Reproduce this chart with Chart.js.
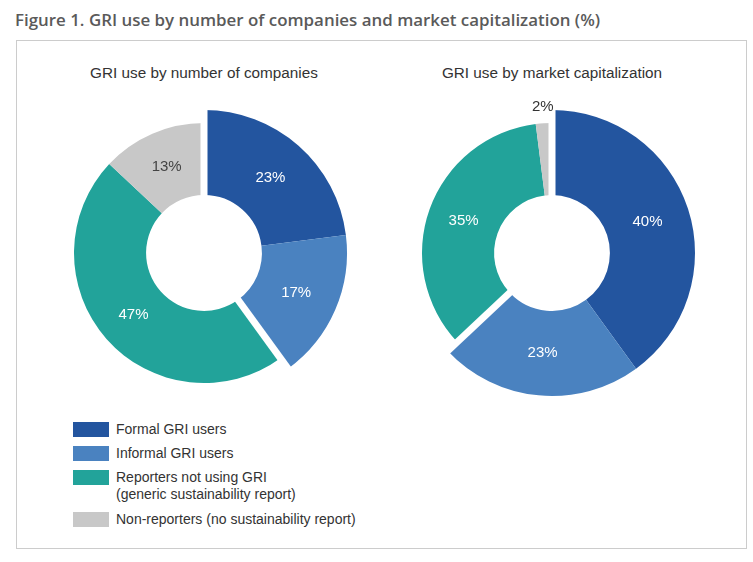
<!DOCTYPE html>
<html>
<head>
<meta charset="utf-8">
<script src="https://cdn.jsdelivr.net/npm/chart.js@4/dist/chart.umd.min.js"></script>
<style>
  html, body { margin: 0; padding: 0; background: #fff; }
  body { width: 753px; height: 562px; position: relative; overflow: hidden; font-family: "Liberation Sans", Arial, sans-serif; }
  #title { position: absolute; left: 15px; top: 8px; font-family: "Open Sans", sans-serif; font-weight: 600; font-size: 16.9px; color: #5a5a5a; white-space: nowrap; }
  #frame { position: absolute; left: 16px; top: 40px; width: 729px; height: 507px; border: 1px solid #cccccc; }
  .sub { position: absolute; top: 64px; width: 300px; text-align: center; font-size: 15.3px; color: #333; white-space: nowrap; }
  .cv { position: absolute; width: 320px; height: 320px; top: 93px; }
  #legend { position: absolute; left: 73px; top: 422px; font-size: 14px; color: #333; }
  .li { position: relative; height: 24px; }
  .li.two { height: 42px; }
  .sw { position: absolute; left: 0; top: 0; width: 36px; height: 15px; }
  .lt { position: absolute; left: 43px; top: -1px; line-height: 17px; white-space: nowrap; }
</style>
</head>
<body>
<div id="title"></div>
<div id="frame"></div>
<div class="sub" id="sub0" style="left:54px"></div>
<div class="sub" id="sub1" style="left:402px"></div>
<div class="cv" style="left:44px"><canvas id="c0" width="320" height="320"></canvas></div>
<div class="cv" style="left:392px"><canvas id="c1" width="320" height="320"></canvas></div>
<div id="legend"></div>
<script>
// ---- data ----
const figureTitle = 'Figure 1. GRI use by number of companies and market capitalization (%)';
const chartTitles = ['GRI use by number of companies', 'GRI use by market capitalization'];
const categories = ['Formal GRI users', 'Informal GRI users', 'Reporters not using GRI', 'Non-reporters (no sustainability report)'];
const categoryNotes = ['', '', '(generic sustainability report)', ''];
const companiesShare = [23, 17, 47, 13];
const marketCapShare = [40, 23, 35, 2];
const categoryGroup = [0, 0, 1, 1]; // GRI users vs others
// ---- styles ----
const sliceColors = ['#23559f', '#4a82c0', '#22a39a', '#c8c8c8'];
const labelColors = ['#ffffff', '#ffffff', '#ffffff', '#444444'];

document.getElementById('title').textContent = figureTitle;
document.getElementById('sub0').textContent = chartTitles[0];
document.getElementById('sub1').textContent = chartTitles[1];

const legend = document.getElementById('legend');
categories.forEach((c, i) => {
  const row = document.createElement('div');
  row.className = 'li' + (categoryNotes[i] ? ' two' : '');
  const sw = document.createElement('div');
  sw.className = 'sw'; sw.style.background = sliceColors[i];
  const t = document.createElement('div');
  t.className = 'lt';
  t.textContent = c;
  if (categoryNotes[i]) { t.appendChild(document.createElement('br')); t.appendChild(document.createTextNode(categoryNotes[i])); }
  row.appendChild(sw); row.appendChild(t);
  legend.appendChild(row);
});

const groupPlugin = {
  id: 'groupRing',
  beforeDatasetsDraw(chart) {
    const meta = chart.getDatasetMeta(0);
    const ctrl = meta.controller;
    const ratio = chart.options.plugins.groupRing.ratio;
    meta.data.forEach((arc, i) => {
      arc.outerRadius = categoryGroup[i] === 0 ? ctrl.outerRadius : ctrl.outerRadius * ratio;
    });
  },
  afterDatasetsDraw(chart) {
    const meta = chart.getDatasetMeta(0);
    const ctx = chart.ctx;
    const n = meta.data.length;
    const vals = chart.data.datasets[0].data;
    ctx.save();
    // white separation bands between groups
    meta.data.forEach((arc, i) => {
      const prev = (i - 1 + n) % n;
      if (categoryGroup[i] !== categoryGroup[prev]) {
        const a = arc.startAngle;
        ctx.strokeStyle = '#ffffff';
        ctx.lineWidth = 7;
        ctx.beginPath();
        ctx.moveTo(arc.x, arc.y);
        ctx.lineTo(arc.x + Math.cos(a) * (arc.outerRadius + 20), arc.y + Math.sin(a) * (arc.outerRadius + 20));
        ctx.stroke();
      }
    });
    // value labels
    ctx.font = '15px "Liberation Sans", Arial, sans-serif';
    ctx.textAlign = 'center';
    ctx.textBaseline = 'middle';
    meta.data.forEach((arc, i) => {
      const mid = (arc.startAngle + arc.endAngle) / 2;
      let r, col;
      if (vals[i] < 5) { r = arc.outerRadius + 16; col = '#333333'; }
      else { r = (arc.innerRadius + arc.outerRadius) / 2; col = labelColors[i]; }
      ctx.fillStyle = col;
      ctx.fillText(vals[i] + '%', arc.x + Math.cos(mid) * r, arc.y + Math.sin(mid) * r);
    });
    ctx.restore();
  }
};

function makeChart(id, values) {
  return new Chart(document.getElementById(id), {
    type: 'doughnut',
    data: { labels: categories, datasets: [{ data: values, backgroundColor: sliceColors, borderWidth: 0 }] },
    options: {
      responsive: false,
      animation: false,
      events: [],
      cutout: '40.5%',
      layout: { padding: 17 },
      plugins: { legend: { display: false }, tooltip: { enabled: false }, groupRing: { ratio: 130 / 143 } }
    },
    plugins: [groupPlugin]
  });
}
makeChart('c0', companiesShare);
makeChart('c1', marketCapShare);
</script>
</body>
</html>
